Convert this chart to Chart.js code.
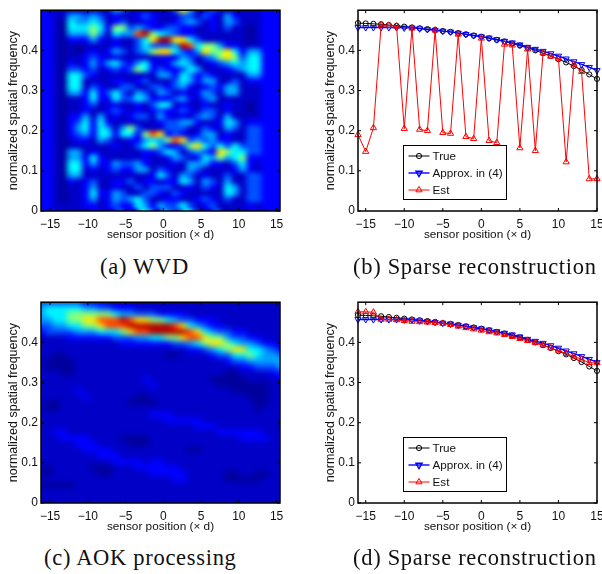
<!DOCTYPE html>
<html>
<head>
<meta charset="utf-8">
<title>Sensor position vs spatial frequency</title>
<script src="https://cdn.jsdelivr.net/npm/chart.js@4"></script>
<style>
  html, body { margin: 0; padding: 0; background: #fff; overflow: hidden; width: 602px; height: 574px; }
  .panel { position: absolute; width: 320px; height: 245px; }
  .caption { position: absolute; font-family: "Liberation Serif", serif; font-size: 22.5px; letter-spacing: 0.7px; color: #111; white-space: nowrap; line-height: 24px; }
</style>
</head>
<body>
<div class="panel" style="left:0;top:0"><canvas id="chartA" width="320" height="245"></canvas></div>
<div class="panel" style="left:300px;top:0"><canvas id="chartB" width="320" height="245"></canvas></div>
<div class="panel" style="left:0;top:292px"><canvas id="chartC" width="320" height="245"></canvas></div>
<div class="panel" style="left:300px;top:292px"><canvas id="chartD" width="320" height="245"></canvas></div>
<div class="caption" style="left:100px;top:255px">(a) WVD</div>
<div class="caption" style="left:353px;top:255px">(b) Sparse reconstruction</div>
<div class="caption" style="left:44px;top:546px">(c) AOK processing</div>
<div class="caption" style="left:353px;top:546px">(d) Sparse reconstruction</div>
<script>
const xTicks = [-15, -10, -5, 0, 5, 10, 15];
const yTicks = [0, 0.1, 0.2, 0.3, 0.4];
const xLabel = "sensor position (\u00d7 d)";
const yLabel = "normalized spatial frequency";

const positions = [-16,-15,-14,-13,-12,-11,-10,-9,-8,-7,-6,-5,-4,-3,-2,-1,0,1,2,3,4,5,6,7,8,9,10,11,12,13,14,15];
const trueValues = [.468,.467,.466,.465,.463,.461,.459,.457,.455,.453,.451,.448,.446,.443,.44,.437,.434,.43,.426,.422,.417,.412,.406,.4,.393,.386,.378,.37,.361,.351,.34,.329];
const approxValues = [.457,.457,.457,.457,.457,.457,.456,.456,.454,.452,.45,.448,.446,.443,.44,.437,.434,.431,.427,.423,.419,.414,.408,.403,.398,.392,.386,.379,.372,.365,.358,.35];
const estB = [.19,.148,.207,.463,.462,.46,.205,.455,.203,.2,.45,.195,.193,.44,.185,.18,.43,.175,.17,.415,.413,.157,.403,.15,.393,.385,.38,.122,.365,.347,.08,.08];
const estD = [.476,.476,.475,.457,.457,.456,.454,.452,.451,.45,.449,.447,.444,.44,.436,.433,.43,.426,.423,.419,.414,.409,.404,.399,.393,.386,.38,.372,.365,.358,.349,.349];

// intensity levels 0-9, rows from the top of the plot down
const wvdLevels = [
  "2211 1111 1143 1111 1137 4123 1111 1122",
  "2211 4434 3121 1232 1113 3132 1421 1122",
  "2210 5445 4123 1122 1123 4312 1431 1122",
  "2210 5556 5266 3432 2332 2112 1311 0122",
  "2210 4446 4154 4896 5432 2111 1111 0122",
  "2210 2224 2121 1357 9977 5311 1111 0122",
  "2210 1011 1121 1353 3349 8566 4221 1122",
  "2210 1012 1243 1346 7753 2476 6752 4422",
  "2210 1123 2121 1111 2224 3134 6763 5522",
  "2210 2124 2453 2452 1245 4112 3454 5522",
  "2210 3323 1232 3652 3223 5411 1234 5522",
  "2210 5532 1111 1111 4425 4232 1111 4422",
  "2210 5511 1122 1231 1135 4244 1131 2222",
  "2210 5513 2113 3113 3234 2123 2441 1122",
  "2210 4425 2353 1431 4312 1243 1441 1122",
  "2210 1125 2253 3542 2234 2134 1111 1122",
  "2210 1123 1121 1213 5512 1121 1211 0122",
  "2210 1121 1232 1212 3223 2133 1211 0122",
  "2210 2241 4121 2331 4212 1343 1411 1122",
  "2210 2352 5211 1111 2334 4211 2541 2222",
  "2210 2452 5414 6311 1333 1132 1431 3322",
  "2210 2342 5525 5268 7232 1244 1211 3322",
  "2210 1221 4311 2245 4687 3434 2211 3322",
  "2210 1111 1121 1356 4223 6753 5353 3322",
  "2210 4412 1111 1122 3541 3432 7655 3322",
  "2210 4425 2111 1121 1243 1254 6456 2222",
  "2210 5524 2243 3421 1121 4442 2135 2122",
  "2210 5512 1232 2441 3211 4311 1124 2122",
  "2210 4411 1111 1112 5314 3121 1311 3322",
  "2210 2123 1122 3122 1225 4143 1411 3322",
  "2210 1124 1121 1313 3311 2132 1541 3322",
  "2210 1125 2243 1133 2132 1111 1541 3322",
  "2210 1124 1243 4531 1221 1232 1311 3322",
  "2211 1122 1232 2542 4335 3123 1111 2122"
];
const aokLevels = [
  "3333 3322 2111 1111 1111 1111 1111 1111",
  "4555 5544 3322 2111 1111 1111 1111 1111",
  "4555 6666 6654 4333 2222 1111 1111 1111",
  "4455 6677 8889 8776 6543 3222 1111 1111",
  "3344 5566 7888 9999 9987 5432 2111 1111",
  "2333 3444 5556 7889 9999 8754 3322 1111",
  "1111 2222 2233 3445 5667 8876 6433 2211",
  "1111 1111 1112 2222 2233 4567 7654 4322",
  "1111 1111 1111 1111 1111 2234 5677 5543",
  "1100 1111 1111 1111 1001 1112 3355 6544",
  "1000 0111 1111 1111 1111 1111 1233 4444",
  "1000 0111 1111 1111 1111 1111 1112 2333",
  "1110 0111 1111 1111 1111 1111 1001 1112",
  "1111 1111 1111 1121 1111 1110 0000 1111",
  "1111 1111 1111 1112 1111 1111 0000 0001",
  "1111 1211 1111 1111 1111 1111 1100 0001",
  "1111 1121 1111 1001 1111 1111 1111 0001",
  "1001 1111 1111 0000 1111 1111 1111 1001",
  "1001 1111 1111 1111 1111 1111 1111 1011",
  "1111 1111 1111 1112 2211 1111 1111 1111",
  "1111 1111 1111 1111 1222 2211 1111 1111",
  "1111 1111 1111 1111 1111 1222 1111 1111",
  "1122 1111 1111 1111 1111 1111 2222 2211",
  "1112 2221 1110 0001 1111 1111 1112 2221",
  "1111 1222 1111 0001 1111 1111 1111 1111",
  "1111 1122 2211 1111 1111 0011 1111 1111",
  "1111 1111 2221 1111 1111 1111 1111 1111",
  "1111 1111 1122 2212 2111 1111 1111 1111",
  "1011 1110 0011 1222 2221 1111 1111 1111",
  "0011 1111 0011 1112 2222 1111 1001 1001",
  "1111 1111 1111 1111 1122 1111 1000 0011",
  "0000 0111 1111 1111 1111 1111 1111 1111",
  "1111 1111 1111 1111 1111 1111 1111 1111",
  "1111 1111 1111 1111 1111 1111 1111 1111"
];
const levelValues = [0.03, 0.07, 0.125, 0.2, 0.28, 0.36, 0.5, 0.65, 0.8, 0.95];

const TEXT = "#111";
const tickFont = { family: "'Liberation Sans', Arial, sans-serif", size: 12 };
const xTitleFont = { family: "'Liberation Sans', Arial, sans-serif", size: 11.8 };
const yTitleFont = { family: "'Liberation Sans', Arial, sans-serif", size: 12.5 };

function jet(v) {
  const c = (x) => Math.round(255 * Math.max(0, Math.min(1, x)));
  return [c(1.5 - Math.abs(4 * v - 3)), c(1.5 - Math.abs(4 * v - 2)), c(1.5 - Math.abs(4 * v - 1))];
}

function heatImage(rows) {
  const grid = rows.map((r) => r.replace(/ /g, "").split("").map(Number));
  const off = document.createElement("canvas");
  off.width = grid[0].length;
  off.height = grid.length;
  const octx = off.getContext("2d");
  const img = octx.createImageData(off.width, off.height);
  grid.forEach((row, y) => row.forEach((lv, x) => {
    const [r, g, b] = jet(levelValues[lv]);
    const i = (y * off.width + x) * 4;
    img.data[i] = r; img.data[i + 1] = g; img.data[i + 2] = b; img.data[i + 3] = 255;
  }));
  octx.putImageData(img, 0, 0);
  return off;
}

// image goes in behind the frame, placed by the scales.
// cell centres sit on the grid lines, so it is pulled back half a cell
function heatPlugin(rows, blur) {
  const off = heatImage(rows);
  return {
    id: "heat",
    beforeDatasetsDraw(chart) {
      const { ctx, scales: { x, y } } = chart;
      const left = x.getPixelForValue(x.min), right = x.getPixelForValue(x.max);
      const top = y.getPixelForValue(y.max), bottom = y.getPixelForValue(y.min);
      const w = right - left, h = bottom - top;
      const dx = w / off.width / 2, dy = h / off.height / 2;
      ctx.save();
      ctx.beginPath();
      ctx.rect(left, top, w, h);
      ctx.clip();
      ctx.imageSmoothingEnabled = true;
      ctx.imageSmoothingQuality = "high";
      ctx.drawImage(off, left, top, w, h);
      ctx.filter = `blur(${blur}px)`;
      ctx.drawImage(off, left - dx, top - dy, w, h);
      ctx.restore();
    },
  };
}

// matlab style box with ticks pointing inward on all four sides
const framePlugin = {
  id: "frame",
  afterDatasetsDraw(chart) {
    const { ctx, chartArea: { left, right, top, bottom }, scales: { x, y } } = chart;
    ctx.save();
    ctx.strokeStyle = "#000";
    ctx.lineWidth = 1;
    ctx.beginPath();
    x.ticks.forEach((t) => {
      const px = x.getPixelForValue(t.value);
      ctx.moveTo(px, bottom); ctx.lineTo(px, bottom - 3);
      ctx.moveTo(px, top); ctx.lineTo(px, top + 3);
    });
    y.ticks.forEach((t) => {
      const py = y.getPixelForValue(t.value);
      ctx.moveTo(left, py); ctx.lineTo(left + 3, py);
      ctx.moveTo(right, py); ctx.lineTo(right - 3, py);
    });
    ctx.stroke();
    ctx.lineWidth = 1.5;
    ctx.strokeRect(left, top, right - left, bottom - top);
    ctx.restore();
  },
};

const legendPlugin = {
  id: "boxLegend",
  afterDraw(chart) {
    const { ctx, chartArea: { left, bottom } } = chart;
    const boxX = left + 45.5, boxY = bottom - 65.5, rowH = 17;
    ctx.save();
    ctx.fillStyle = "#fff";
    ctx.strokeStyle = "#000";
    ctx.lineWidth = 1;
    ctx.fillRect(boxX, boxY, 103, 54);
    ctx.strokeRect(boxX, boxY, 103, 54);
    ctx.font = "11.7px 'Liberation Sans', Arial, sans-serif";
    ctx.textBaseline = "middle";
    chart.data.datasets.forEach((ds, i) => {
      const y = boxY + 10.5 + i * rowH;
      ctx.strokeStyle = ds.borderColor;
      ctx.lineWidth = ds.borderWidth;
      ctx.beginPath();
      ctx.moveTo(boxX + 5, y);
      ctx.lineTo(boxX + 26, y);
      ctx.stroke();
      ctx.fillStyle = "rgba(0,0,0,0)";
      Chart.helpers.drawPoint(ctx, {
        pointStyle: ds.pointStyle,
        rotation: ds.pointRotation || 0,
        radius: ds.pointRadius,
        borderWidth: 1,
      }, boxX + 15.5, y);
      ctx.fillStyle = TEXT;
      ctx.fillText(ds.label, boxX + 29, y + 0.5);
    });
    ctx.restore();
  },
};

function axes(xMin, xMax, yAxisWidth) {
  return {
    x: {
      type: "linear", min: xMin, max: xMax,
      afterBuildTicks: (s) => { s.ticks = xTicks.map((v) => ({ value: v })); },
      afterFit: (s) => { s.height = 34; },
      grid: { display: false, drawTicks: false },
      border: { display: false },
      ticks: {
        autoSkip: false, maxRotation: 0, padding: 6, color: TEXT, font: tickFont,
        callback: (v) => String(v).replace("-", "\u2212"),
      },
      title: { display: true, text: xLabel, color: TEXT, font: xTitleFont, padding: { top: 0, bottom: 3 } },
    },
    y: {
      type: "linear", min: 0, max: 0.5,
      afterBuildTicks: (s) => { s.ticks = yTicks.map((v) => ({ value: v })); },
      afterFit: (s) => { s.width = yAxisWidth; },
      grid: { display: false, drawTicks: false },
      border: { display: false },
      ticks: { padding: 3, color: TEXT, font: tickFont, callback: (v) => String(v) },
      title: { display: true, text: yLabel, color: TEXT, font: yTitleFont, padding: { top: yAxisWidth - 35, bottom: 0 } },
    },
  };
}

function heatChart(id, rows, blur) {
  new Chart(document.getElementById(id), {
    type: "scatter",
    data: { datasets: [] },
    options: {
      responsive: false,
      animation: false,
      layout: { padding: { top: 7, right: 40, left: 0, bottom: 0 } },
      scales: axes(-16.2, 15.45, 41),
      plugins: { legend: { display: false }, tooltip: { enabled: false } },
    },
    plugins: [heatPlugin(rows, blur), framePlugin],
  });
}

function lineChart(id, est) {
  const pts = (vals) => positions.map((x, i) => ({ x, y: vals[i] }));
  new Chart(document.getElementById(id), {
    type: "line",
    data: {
      datasets: [
        { label: "True", data: pts(trueValues), borderColor: "#000", borderWidth: 1, pointStyle: "circle", pointRadius: 2.6, pointBorderWidth: 1, pointBorderColor: "#000", pointBackgroundColor: "rgba(0,0,0,0)", order: 3, clip: false },
        { label: "Approx. in (4)", data: pts(approxValues), borderColor: "#0000ff", borderWidth: 1.4, pointStyle: "triangle", pointRotation: 180, pointRadius: 3.6, pointBorderWidth: 1, pointBorderColor: "#0000ff", pointBackgroundColor: "rgba(0,0,0,0)", order: 2, clip: false },
        { label: "Est", data: pts(est), borderColor: "#ff0000", borderWidth: 1, pointStyle: "triangle", pointRadius: 3.6, pointBorderWidth: 1, pointBorderColor: "#ff0000", pointBackgroundColor: "rgba(0,0,0,0)", order: 1, clip: false },
      ],
    },
    options: {
      responsive: false,
      animation: false,
      layout: { padding: { top: 7, right: 23, left: 0, bottom: 0 } },
      scales: axes(-16, 15, 58),
      plugins: { legend: { display: false }, tooltip: { enabled: false } },
    },
    plugins: [framePlugin, legendPlugin],
  });
}

heatChart("chartA", wvdLevels, 1.4);
lineChart("chartB", estB);
heatChart("chartC", aokLevels, 2.2);
lineChart("chartD", estD);
</script>
</body>
</html>
